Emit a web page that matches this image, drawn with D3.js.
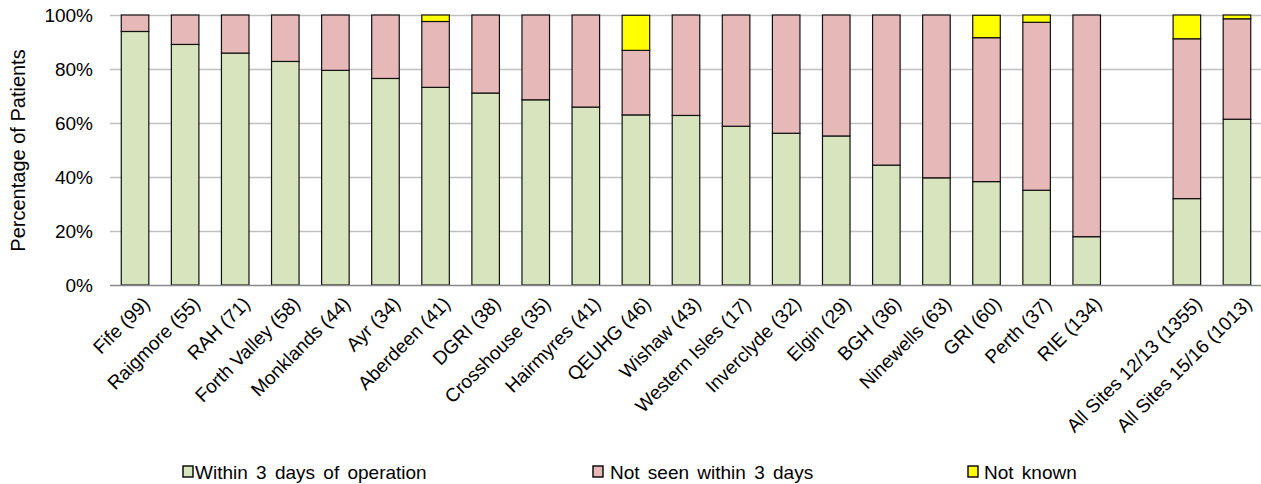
<!DOCTYPE html>
<html><head><meta charset="utf-8">
<script src="https://cdn.jsdelivr.net/npm/d3@7"></script>
<style>body{margin:0;background:#fff}svg{display:block}text{font-family:"Liberation Sans",Arial,sans-serif;fill:#000}</style>
</head><body><svg id="c" width="1261" height="484"></svg>
<script>
const categories = ["Fife (99)","Raigmore (55)","RAH (71)","Forth Valley (58)","Monklands (44)","Ayr (34)","Aberdeen (41)","DGRI (38)","Crosshouse (35)","Hairmyres (41)","QEUHG (46)","Wishaw (43)","Western Isles (17)","Inverclyde (32)","Elgin (29)","BGH (36)","Ninewells (63)","GRI (60)","Perth (37)","RIE (134)","","All Sites 12/13 (1355)","All Sites 15/16 (1013)"];
const within3 =   [93.9,89.1,85.9,82.8,79.5,76.5,73.2,71.1,68.6,65.9,63.0,62.8,58.8,56.2,55.2,44.4,39.7,38.3,35.1,17.9,null,32.0,61.4];
const notSeen =   [6.1,10.9,14.1,17.2,20.5,23.5,24.4,28.9,31.4,34.1,23.9,37.2,41.2,43.8,44.8,55.6,60.3,53.3,62.2,82.1,null,59.2,37.2];
const notKnown =  [0,0,0,0,0,0,2.4,0,0,0,13.0,0,0,0,0,0,0,8.3,2.7,0,null,8.8,1.4];
const seriesNames = ["Within 3 days of operation","Not seen within 3 days","Not known"];
const seriesColors = ["#D7E4BD","#E6B9B8","#FFFF00"];
const yTicks = [0,20,40,60,80,100];

const svg = d3.select("#c");
const m = {left:110, right:1262, top:15, bottom:285};
const x = d3.scaleBand().domain(d3.range(categories.length)).range([m.left, m.right]).paddingInner(0.45).paddingOuter(0.225);
const y = d3.scaleLinear().domain([0,100]).range([m.bottom, m.top]);

// grid
svg.append("g").selectAll("line").data(yTicks.filter(d=>d>0)).join("line")
  .attr("x1", m.left).attr("x2", m.right).attr("y1", d=>y(d)+0.5).attr("y2", d=>y(d)+0.5)
  .attr("stroke","#c0c0c0").attr("stroke-width",1.3);

// y axis labels
const yAxis = d3.axisLeft(y).tickValues(yTicks).tickFormat(d=>d+"%").tickSize(0).tickPadding(17);
const ya = svg.append("g").attr("transform",`translate(${m.left},0)`).call(yAxis);
ya.select(".domain").remove();
ya.selectAll("text").style("font-size","19px").style("font-family","'Liberation Sans',Arial,sans-serif").attr("fill","#000").attr("dy","0.36em");

svg.append("text").attr("transform","translate(25,150.5) rotate(-90)").attr("text-anchor","middle")
  .style("font-size","20px").text("Percentage of Patients");

// stacked data
const rows = categories.map((c,i)=>({i, v:[within3[i],notSeen[i],notKnown[i]]}));
const g = svg.append("g");
rows.forEach(r=>{
  if (r.v[0]==null) return;
  let acc = 0;
  r.v.forEach((val,k)=>{
    if (!val) return;
    g.append("rect").attr("x", x(r.i)).attr("width", x.bandwidth())
      .attr("y", y(acc+val)).attr("height", y(acc)-y(acc+val))
      .attr("fill", seriesColors[k]).attr("stroke","#111").attr("stroke-width",1.2);
    acc += val;
  });
});

// x axis line
svg.append("line").attr("x1",m.left).attr("x2",m.right).attr("y1",y(0)+0.5).attr("y2",y(0)+0.5)
  .attr("stroke","#888").attr("stroke-width",1.5);

// x labels
const xAxis = d3.axisBottom(x).tickFormat(i=>categories[i]).tickSize(0);
const xa = svg.append("g").attr("transform",`translate(0,${m.bottom})`).call(xAxis);
xa.select(".domain").remove();
xa.selectAll("text").style("font-size","19px").style("font-family","'Liberation Sans',Arial,sans-serif").attr("fill","#000")
  .attr("text-anchor","end").attr("dy","0").attr("y",0)
  .attr("transform","translate(16,20) rotate(-45)");

// legend
const legX = [183, 593, 968];
const legTX = [195, 610, 984];
const lg = svg.append("g");
seriesNames.forEach((n,k)=>{
  lg.append("rect").attr("x",legX[k]).attr("y",466).attr("width",10).attr("height",11)
    .attr("fill",seriesColors[k]).attr("stroke","#000").attr("stroke-width",1.4);
  lg.append("text").attr("x",legTX[k]).attr("y",479).style("font-size","19px").style("word-spacing","3px").text(n);
});
</script></body></html>
